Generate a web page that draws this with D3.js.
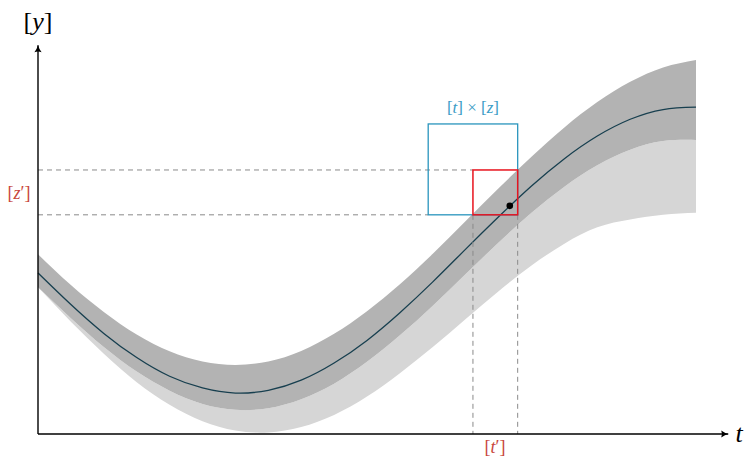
<!DOCTYPE html>
<html>
<head>
<meta charset="utf-8">
<script src="https://cdn.jsdelivr.net/npm/d3@7"></script>
<style>
  body { margin: 0; background: #fff; }
</style>
</head>
<body>
<div id="chart"></div>
<script>
// sample times along the t axis
const times = [0, 0.5, 1, 1.5, 2, 2.5, 3, 3.5, 4, 4.5, 5, 5.5, 6, 6.5, 7, 7.5, 8, 8.5, 9, 9.5, 10];
// trajectory y(t)
const center = [4.13, 3.32, 2.58, 1.96, 1.48, 1.18, 1.05, 1.12, 1.38, 1.82, 2.40, 3.11, 3.90, 4.74, 5.57, 6.36, 7.06, 7.64, 8.07, 8.32, 8.38];
// tube [y](t), upper and lower bounds
const upper = [4.61, 3.82, 3.13, 2.55, 2.12, 1.86, 1.77, 1.86, 2.13, 2.57, 3.15, 3.84, 4.62, 5.46, 6.30, 7.11, 7.86, 8.51, 9.03, 9.40, 9.59];
const lower = [3.76, 2.97, 2.23, 1.60, 1.11, 0.77, 0.62, 0.66, 0.89, 1.29, 1.85, 2.53, 3.29, 4.10, 4.91, 5.67, 6.34, 6.89, 7.29, 7.51, 7.54];
// wider enclosure, lower bound
const outerLower = [3.76, 2.88, 2.06, 1.33, 0.75, 0.33, 0.09, 0.04, 0.18, 0.49, 0.96, 1.56, 2.23, 2.95, 3.66, 4.32, 4.88, 5.30, 5.50, 5.62, 5.67];

// boxes [t]x[z] and [t']x[z'], and the point
const boxT = [5.93, 7.29];
const boxZ = [5.62, 7.95];
const boxT2 = [6.61, 7.29];
const boxZ2 = [5.62, 6.77];
const point = [7.17, 5.85];
const axisEnd = [10.49, 9.97];

const width = 745;
const height = 458;
const font = "'Liberation Serif', 'Times New Roman', 'DejaVu Serif', serif";

const x = d3.scaleLinear().domain([0, 10]).range([38, 696]);
const y = d3.scaleLinear().domain([0, 10]).range([434, 44]);

const svg = d3.select("#chart").append("svg")
    .attr("width", width)
    .attr("height", height);

const rows = times.map((t, i) => ({t: t, c: center[i], u: upper[i], l: lower[i], o: outerLower[i]}));

// light enclosure
svg.append("path")
    .datum(rows)
    .attr("fill", "#d6d6d6")
    .attr("d", d3.area().curve(d3.curveNatural)
        .x(d => x(d.t)).y0(d => y(d.o)).y1(d => y(d.l)));

// tube
svg.append("path")
    .datum(rows)
    .attr("fill", "#b3b3b3")
    .attr("d", d3.area().curve(d3.curveNatural)
        .x(d => x(d.t)).y0(d => y(d.l)).y1(d => y(d.u)));

// trajectory
svg.append("path")
    .datum(rows)
    .attr("fill", "none")
    .attr("stroke", "#173f4f")
    .attr("stroke-width", 1.3)
    .attr("d", d3.line().curve(d3.curveNatural).x(d => x(d.t)).y(d => y(d.c)));

// dashed guides
const dash = svg.append("g")
    .attr("stroke", "#8a8a8a")
    .attr("stroke-width", 1)
    .attr("stroke-dasharray", "5,4")
    .attr("fill", "none");
dash.append("line").attr("x1", x(0)).attr("x2", x(boxT2[0])).attr("y1", y(boxZ2[1])).attr("y2", y(boxZ2[1]));
dash.append("line").attr("x1", x(0)).attr("x2", x(boxT[0])).attr("y1", y(boxZ2[0])).attr("y2", y(boxZ2[0]));
boxT2.forEach(t => {
  dash.append("line").attr("x1", x(t)).attr("x2", x(t)).attr("y1", y(boxZ2[0])).attr("y2", y(0));
});

// boxes
svg.append("rect")
    .attr("x", x(boxT[0])).attr("y", y(boxZ[1]))
    .attr("width", x(boxT[1]) - x(boxT[0]))
    .attr("height", y(boxZ[0]) - y(boxZ[1]))
    .attr("fill", "none").attr("stroke", "#2a95bd").attr("stroke-width", 1.3);
svg.append("rect")
    .attr("x", x(boxT2[0])).attr("y", y(boxZ2[1]))
    .attr("width", x(boxT2[1]) - x(boxT2[0]))
    .attr("height", y(boxZ2[0]) - y(boxZ2[1]))
    .attr("fill", "none").attr("stroke", "#e8141e").attr("stroke-width", 1.5);

svg.append("circle")
    .attr("cx", x(point[0])).attr("cy", y(point[1]))
    .attr("r", 3.3).attr("fill", "#000");

// axes with arrow heads
svg.append("defs").append("marker")
    .attr("id", "arrow")
    .attr("viewBox", "-8 -5 10 10")
    .attr("refX", 0).attr("refY", 0)
    .attr("markerWidth", 10).attr("markerHeight", 10)
    .attr("markerUnits", "userSpaceOnUse")
    .attr("orient", "auto")
    .append("path")
    .attr("d", "M-7,-3.6 Q-3,-0.8 0,0 Q-3,0.8 -7,3.6 Q-5.5,0 -7,-3.6 Z")
    .attr("fill", "#000");

svg.append("line")
    .attr("x1", x(0)).attr("y1", y(0)).attr("x2", x(axisEnd[0])).attr("y2", y(0))
    .attr("stroke", "#000").attr("stroke-width", 1.4).attr("marker-end", "url(#arrow)");
svg.append("line")
    .attr("x1", x(0)).attr("y1", y(0)).attr("x2", x(0)).attr("y2", y(axisEnd[1]))
    .attr("stroke", "#000").attr("stroke-width", 1.4).attr("marker-end", "url(#arrow)");

// labels
function mathLabel(px, py, parts, size, color) {
  const txt = svg.append("text")
      .attr("x", px).attr("y", py)
      .attr("text-anchor", "middle")
      .attr("font-family", font)
      .attr("font-size", size)
      .attr("fill", color);
  parts.forEach(p => {
    txt.append("tspan").attr("font-style", p[1] ? "italic" : "normal").text(p[0]);
  });
}

mathLabel(x(0), 30, [["[", 0], ["y", 1], ["]", 0]], 26, "#000");
mathLabel(739, 442, [["t", 1]], 26, "#000");
mathLabel(19, 199, [["[", 0], ["z", 1], ["′", 0], ["]", 0]], 18, "#c8463c");
mathLabel(495, 453, [["[", 0], ["t", 1], ["′", 0], ["]", 0]], 18, "#c8463c");
mathLabel((x(boxT[0]) + x(boxT[1])) / 2, 113,
  [["[", 0], ["t", 1], ["] × [", 0], ["z", 1], ["]", 0]], 17, "#3a9cc6");
</script>
</body>
</html>
